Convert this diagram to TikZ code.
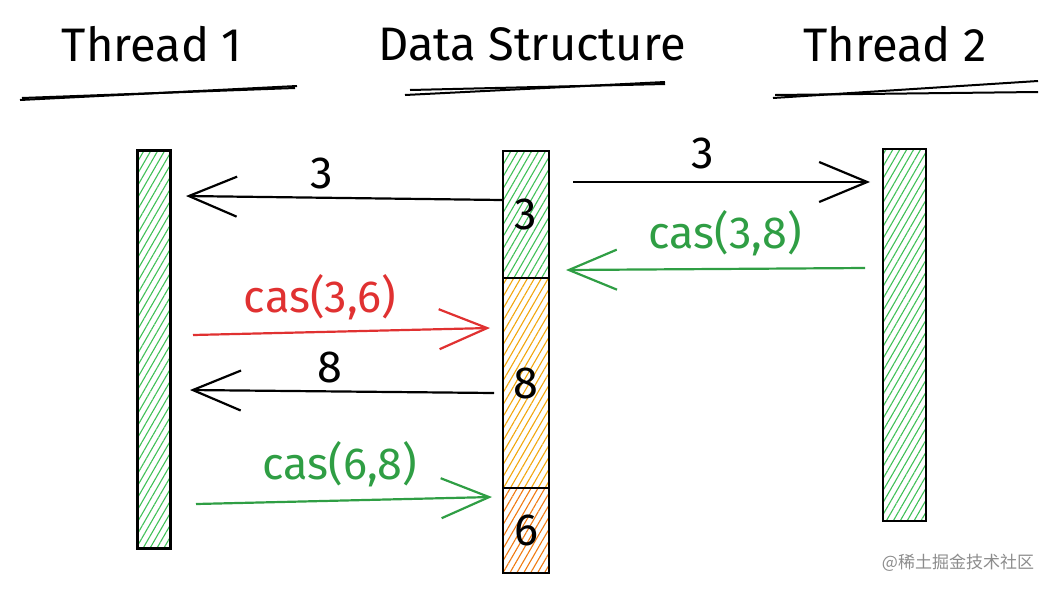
\documentclass[tikz,border=0pt]{standalone}
\usepackage{fontspec}
\setmainfont{Fira Sans}
\newfontfamily\cjk{Noto Sans CJK SC}
\usetikzlibrary{arrows.meta,patterns.meta}
\definecolor{xgreen}{HTML}{2F9E44}
\definecolor{xhgreen}{HTML}{40C057}
\definecolor{xred}{HTML}{E03131}
\definecolor{xyellow}{HTML}{F2A60C}
\definecolor{xorange}{HTML}{F07A10}
\tikzset{
  bar/.style={draw=black, line width=2.2pt, inner sep=0pt, minimum width=#1},
  hatch/.style={pattern={Lines[angle=60,distance=6pt,line width=1.1pt]}, pattern color=#1},
  arr/.style={line width=2.2pt, -{Straight Barb[length=48pt,width=40pt,line width=2.2pt]}},
  ttl/.style={font=\fontsize{47}{50}\selectfont},
  lbl/.style={font=\fontsize{45}{48}\selectfont},
  uline/.style={line width=2pt},
}
\begin{document}
\begin{tikzpicture}[x=1pt,y=-1pt]
\useasboundingbox (0,0) rectangle (1059,592);
% titles
\node[ttl] (h1) at (152,44) {Thread 1};
\node[ttl] (h2) at (532,44) {Data Structure};
\node[ttl] (h3) at (895,44) {Thread 2};
\draw[uline] (20,100) -- (297,86);
\draw[uline] (22,98) -- (295,88);
\draw[uline] (405,95) -- (665,82);
\draw[uline] (410,90) -- (665,84);
\draw[uline] (773,98) -- (1038,81);
\draw[uline] (775,95) -- (1038,92);
% bars
\node[bar=33pt, minimum height=398pt, hatch=xhgreen, anchor=north west] (t1) at (137,150) {};
\node[bar=43pt, minimum height=372pt, hatch=xhgreen, anchor=north west] (t2) at (882,148) {};
\node[bar=46pt, minimum height=127pt, hatch=xhgreen, anchor=north west, lbl] (d3) at (502,150) {3};
\node[bar=46pt, minimum height=210pt, hatch=xyellow, anchor=north west, lbl] (d8) at (502,277) {8};
\node[bar=46pt, minimum height=85pt, hatch=xorange, anchor=north west, lbl] (d6) at (502,487) {6};
% connection points
\coordinate (a1s) at (d3.west |- 0,200);
\coordinate (a1e) at (186,196);
\coordinate (a2s) at (573,182);
\coordinate (a2e) at (870,182);
\coordinate (a3s) at (865,268);
\coordinate (a3e) at (566,270);
\coordinate (a4s) at (193,335);
\coordinate (a4e) at (490,328);
\coordinate (a5s) at (494,393);
\coordinate (a5e) at (190,390);
\coordinate (a6s) at (196,504);
\coordinate (a6e) at (492,497);
% arrows
\draw[arr] (a1s) -- (a1e);
\draw[arr] (a2s) -- (a2e);
\draw[arr, draw=xgreen] (a3s) -- (a3e);
\draw[arr, draw=xred] (a4s) -- (a4e);
\draw[arr] (a5s) -- (a5e);
\draw[arr, draw=xgreen] (a6s) -- (a6e);
% labels
\node[lbl] (l1) at (322,173) {3};
\node[lbl] (l2) at (703,153) {3};
\node[lbl, text=xgreen] (l3) at (725,233) {cas(3,8)};
\node[lbl, text=xred] (l4) at (320,297) {cas(3,6)};
\node[lbl] (l5) at (330,367) {8};
\node[lbl, text=xgreen] (l6) at (340,464) {cas(6,8)};
% watermark
\node[text=black!45, font=\cjk\fontsize{17}{20}\selectfont] (wm) at (958,563) {@稀土掘金技术社区};
\end{tikzpicture}
\end{document}
